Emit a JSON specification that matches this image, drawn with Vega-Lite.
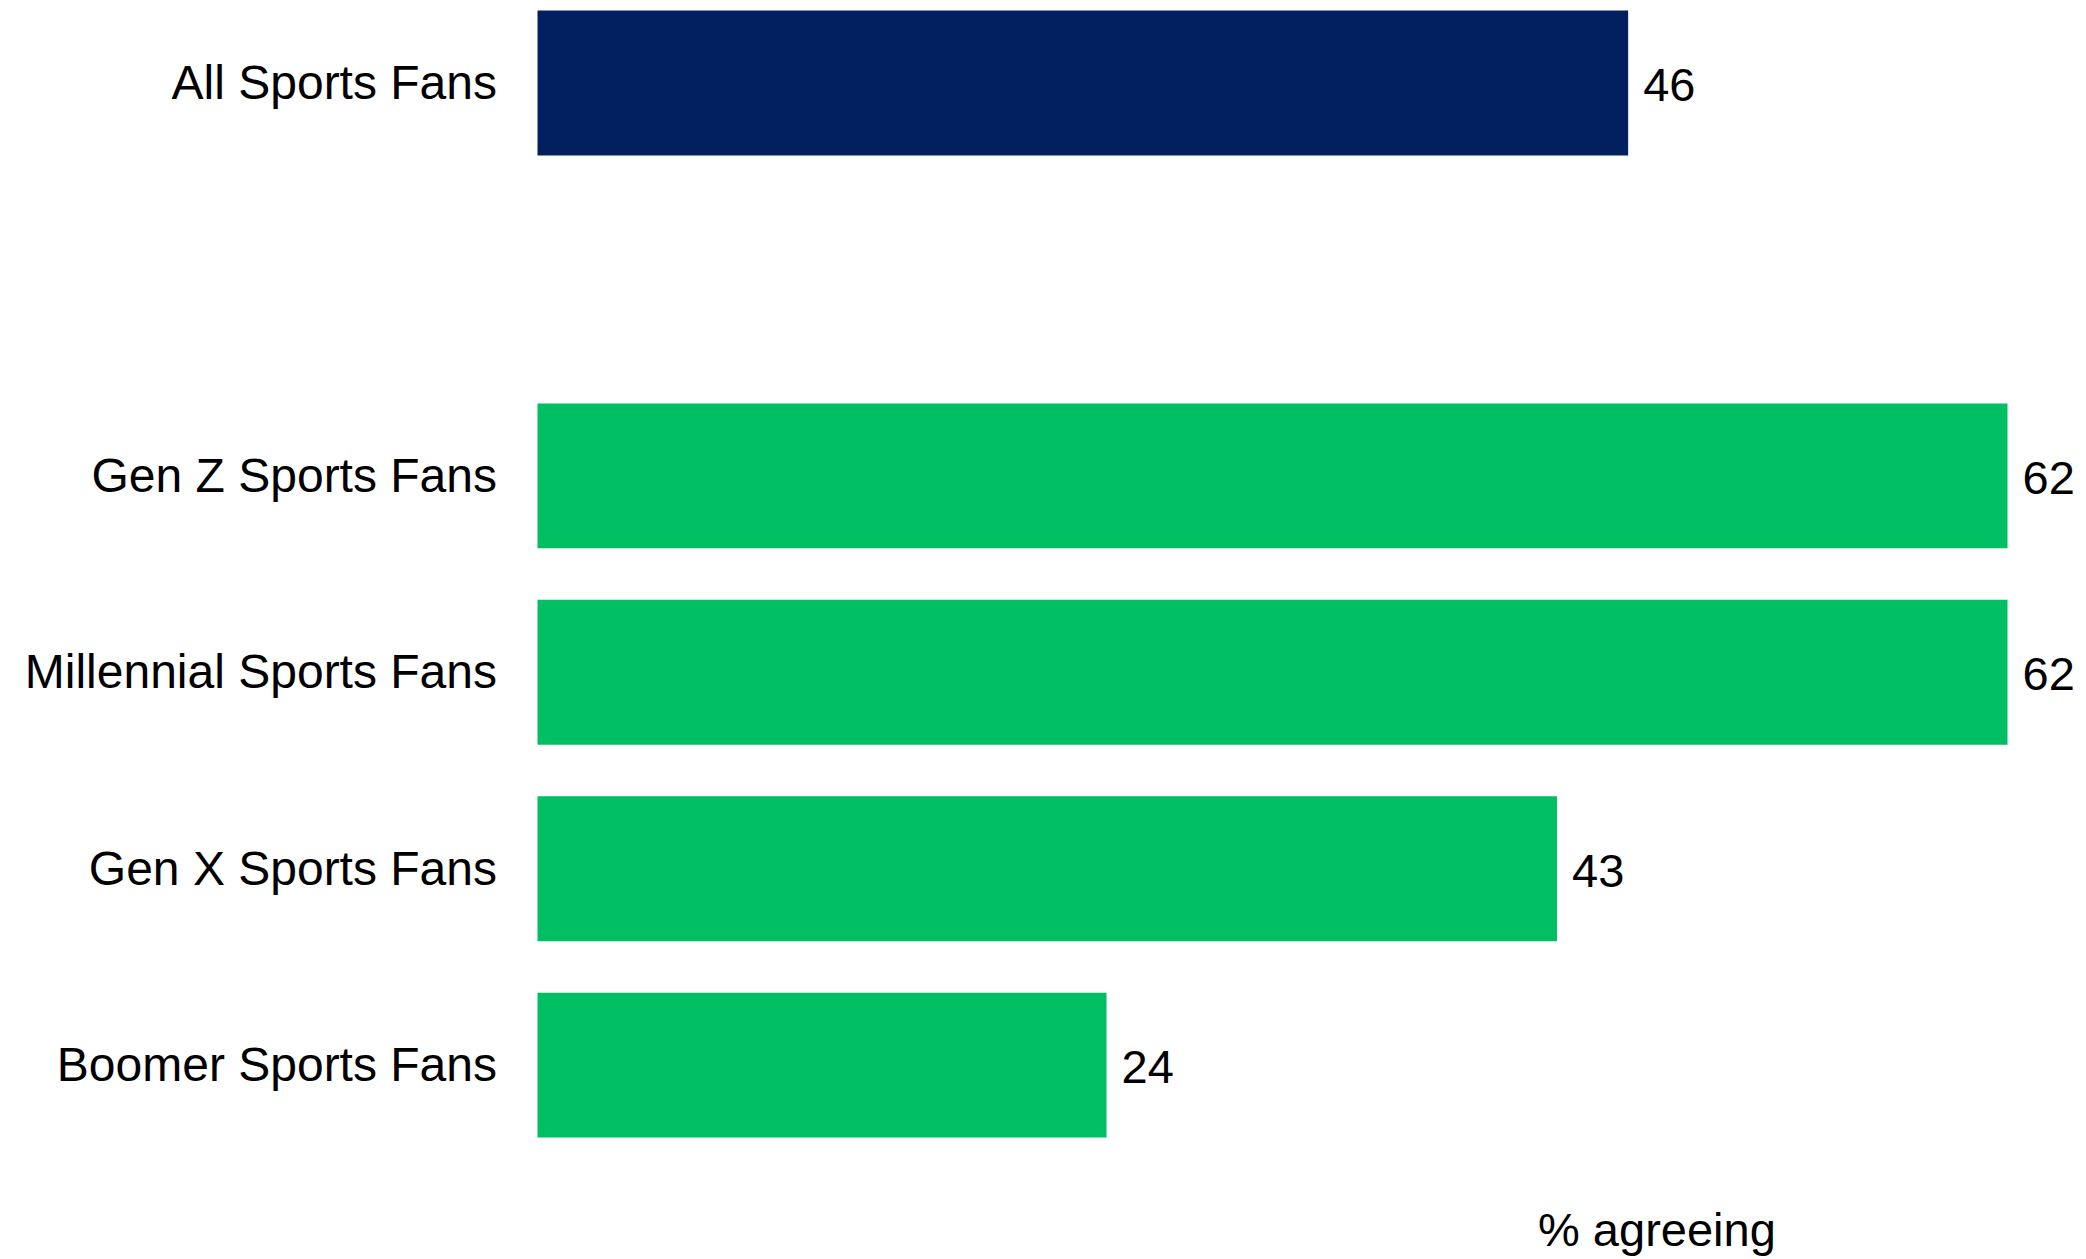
{
  "$schema": "https://vega.github.io/schema/vega-lite/v6.json",
  "autosize": "none",
  "width": 1470,
  "height": 1127,
  "padding": {"left": 537.5, "top": 10.6, "right": 78.5, "bottom": 121.4},
  "background": "white",
  "config": {
    "view": {"stroke": null},
    "font": "Liberation Sans"
  },
  "data": {
    "values": [
      {"segment": "All Sports Fans", "value": 46, "group": "All"},
      {"segment": "Gen Z Sports Fans", "value": 62, "group": "Generation"},
      {"segment": "Millennial Sports Fans", "value": 62, "group": "Generation"},
      {"segment": "Gen X Sports Fans", "value": 43, "group": "Generation"},
      {"segment": "Boomer Sports Fans", "value": 24, "group": "Generation"}
    ]
  },
  "encoding": {
    "y": {
      "field": "segment",
      "type": "nominal",
      "scale": {
        "domain": ["All Sports Fans", " ", "Gen Z Sports Fans", "Millennial Sports Fans", "Gen X Sports Fans", "Boomer Sports Fans"],
        "paddingInner": 0.262,
        "paddingOuter": 0
      },
      "axis": {
        "title": null,
        "ticks": false,
        "domain": false,
        "labelPadding": 41,
        "labelFontSize": 48,
        "labelOffset": 2,
        "labelLimit": 0,
        "labelColor": "#000000",
        "labelFont": "Liberation Sans"
      }
    },
    "x": {
      "field": "value",
      "type": "quantitative",
      "scale": {"domain": [0, 62], "nice": false},
      "axis": {
        "labels": false,
        "ticks": false,
        "domain": false,
        "grid": false,
        "title": "% agreeing",
        "titleFontSize": 47,
        "titleFontWeight": "normal",
        "titleColor": "#000000",
        "titleFont": "Liberation Sans",
        "titleAnchor": "start",
        "titleAlign": "left",
        "titleBaseline": "alphabetic",
        "titleX": 1000,
        "titleY": 108
      }
    }
  },
  "layer": [
    {
      "mark": {"type": "bar"},
      "encoding": {
        "color": {
          "field": "group",
          "type": "nominal",
          "scale": {"domain": ["All", "Generation"], "range": ["#022060", "#00BF63"]},
          "legend": null
        }
      }
    },
    {
      "mark": {"type": "text", "align": "left", "baseline": "middle", "dx": 15, "dy": 4, "fontSize": 47, "color": "#000000", "font": "Liberation Sans"},
      "encoding": {
        "text": {"field": "value", "type": "quantitative"}
      }
    }
  ]
}
